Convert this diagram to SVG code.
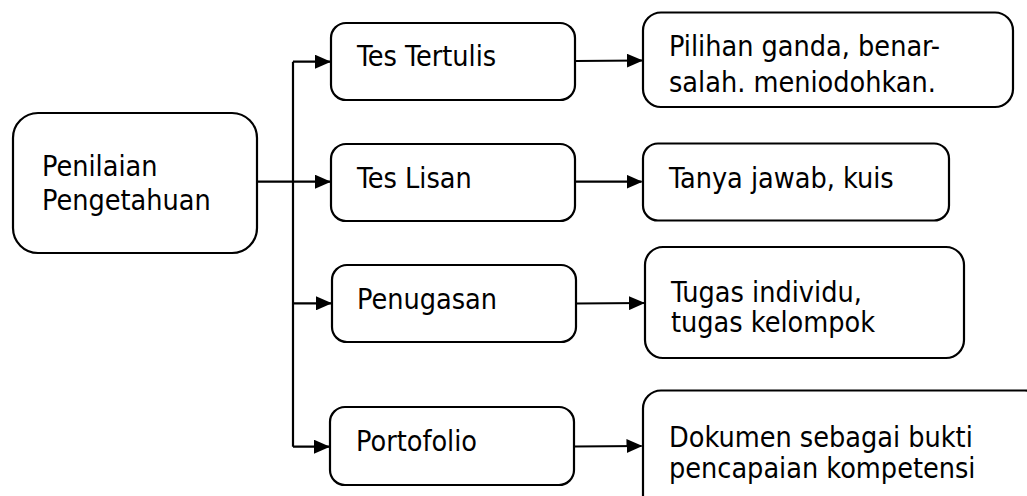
<svg xmlns="http://www.w3.org/2000/svg" width="1027" height="496" viewBox="0 0 1027 496">
  <style>
    .box { fill: #ffffff; stroke: #000000; stroke-width: 2.2; }
    .lbl { font-family: "DejaVu Sans Condensed", "DejaVu Sans", sans-serif; font-stretch: condensed; font-size: 28.5px; fill: #000000; }
    .wire { fill: none; stroke: #000000; stroke-width: 2.2; }
  </style>
  <defs>
    <marker id="arrow" markerUnits="userSpaceOnUse" markerWidth="16" markerHeight="14" refX="15" refY="7" orient="auto">
      <path d="M0,0 L16,7 L0,14 Z" fill="#000000"/>
    </marker>
    <clipPath id="clip-tertulis-detail">
      <rect x="640" y="10" width="380" height="85"/>
    </clipPath>
  </defs>

  <!-- connectors -->
  <g id="connectors">
    <path class="wire" d="M257,181.7 H330" marker-end="url(#arrow)"/>
    <path class="wire" d="M293,61.7 V446.7"/>
    <path class="wire" d="M293,61.7 H330" marker-end="url(#arrow)"/>
    <path class="wire" d="M293,303.3 H331" marker-end="url(#arrow)"/>
    <path class="wire" d="M293,446.7 H329" marker-end="url(#arrow)"/>
    <path class="wire" d="M575,61 L642,60.5" marker-end="url(#arrow)"/>
    <path class="wire" d="M575,181.7 H641.5" marker-end="url(#arrow)"/>
    <path class="wire" d="M576,303.5 L644,303" marker-end="url(#arrow)"/>
    <path class="wire" d="M574,446.5 L641.5,446" marker-end="url(#arrow)"/>
  </g>

  <!-- root -->
  <g id="penilaian-pengetahuan">
    <rect class="box" x="13" y="113" width="244" height="140" rx="25" ry="25"/>
    <text class="lbl" x="42" y="176">Penilaian</text>
    <text class="lbl" x="42" y="210">Pengetahuan</text>
  </g>

  <!-- methods -->
  <g id="tes-tertulis">
    <rect class="box" x="331" y="23" width="244" height="77" rx="15" ry="15"/>
    <text class="lbl" x="357" y="66">Tes Tertulis</text>
  </g>
  <g id="tes-lisan">
    <rect class="box" x="331" y="144" width="244" height="77" rx="15" ry="15"/>
    <text class="lbl" x="357" y="187.5">Tes Lisan</text>
  </g>
  <g id="penugasan">
    <rect class="box" x="332" y="265" width="244" height="77" rx="15" ry="15"/>
    <text class="lbl" x="357" y="309">Penugasan</text>
  </g>
  <g id="portofolio">
    <rect class="box" x="330" y="407" width="244" height="78" rx="15" ry="15"/>
    <text class="lbl" x="356" y="451">Portofolio</text>
  </g>

  <!-- details -->
  <g id="tertulis-detail">
    <rect class="box" x="643" y="12.5" width="370" height="94.5" rx="18" ry="18"/>
    <g clip-path="url(#clip-tertulis-detail)">
      <text class="lbl" x="669" y="56">Pilihan ganda, benar-</text>
      <text class="lbl" x="669" y="91.5">salah. meniodohkan.</text>
    </g>
  </g>
  <g id="lisan-detail">
    <rect class="box" x="643" y="143.5" width="306" height="77" rx="15" ry="15"/>
    <text class="lbl" x="669" y="188">Tanya jawab, kuis</text>
  </g>
  <g id="penugasan-detail">
    <rect class="box" x="645" y="247" width="319" height="111" rx="18" ry="18"/>
    <text class="lbl" x="671" y="301.5">Tugas individu,</text>
    <text class="lbl" x="671" y="331.5">tugas kelompok</text>
  </g>
  <g id="portofolio-detail">
    <rect class="box" x="643" y="390.5" width="400" height="130" rx="18" ry="18"/>
    <text class="lbl" x="669" y="447">Dokumen sebagai bukti</text>
    <text class="lbl" x="669" y="478">pencapaian kompetensi</text>
  </g>
</svg>
